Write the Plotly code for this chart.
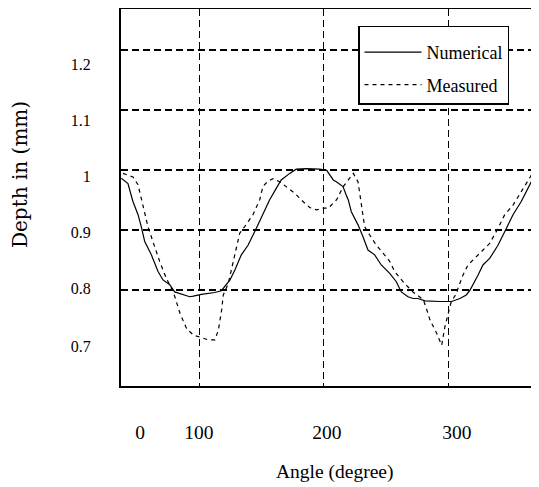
import plotly.graph_objects as go

# ---- data ----
num_angle = [36.9, 42.3, 46.3, 50.4, 53.0, 55.8, 61.1, 66.5, 70.5, 75.9, 79.9, 87.9, 92.0, 94.9,
             101.4, 112.1, 117.5, 124.4, 128.4, 133.5, 138.9, 145.5, 150.9, 156.3, 161.6, 165.6,
             172.4, 177.7, 185.9, 196.5, 202.2, 207.5, 209.9, 215.3, 217.9, 219.5, 222.0, 227.4,
             231.4, 235.4, 240.8, 246.1, 252.9, 258.2, 262.2, 267.6, 271.8, 275.6, 281.3, 287.7,
             293.3, 302.7, 306.4, 309.4, 314.5, 317.5, 323.9, 327.9, 333.3, 340.0, 346.7, 352.1,
             358.7, 364.1, 368.1, 372.2]
num_depth = [0.986, 0.977, 0.947, 0.925, 0.905, 0.880, 0.858, 0.830, 0.816, 0.808, 0.796, 0.791, 0.788, 0.789,
             0.792, 0.795, 0.798, 0.816, 0.833, 0.858, 0.874, 0.902, 0.927, 0.950, 0.969, 0.983,
             0.994, 1.001, 1.002, 1.001, 0.999, 0.983, 0.980, 0.972, 0.958, 0.950, 0.930, 0.908,
             0.888, 0.866, 0.858, 0.841, 0.827, 0.813, 0.796, 0.788, 0.785, 0.785, 0.781, 0.780,
             0.780, 0.780, 0.783, 0.785, 0.791, 0.799, 0.824, 0.841, 0.852, 0.874, 0.902, 0.925,
             0.947, 0.969, 0.988, 1.002]

meas_angle = [38.3, 46.3, 50.4, 54.4, 58.4, 62.4, 67.8, 73.1, 78.8, 84.2, 89.4, 94.9, 101.6, 106.9,
              112.3, 115.0, 117.7, 119.0, 123.0, 126.0, 132.2, 136.2, 142.9, 148.3, 150.9, 154.9,
              159.0, 164.4, 169.7, 176.4, 183.1, 188.5, 194.0, 199.2, 203.5, 210.2, 215.5, 223.6,
              227.4, 230.0, 232.7, 236.8, 242.1, 247.5, 252.9, 256.9, 264.9, 271.6, 277.0, 279.9,
              282.3, 285.3, 290.7, 294.7, 297.3, 301.4, 302.4, 306.8, 307.8, 311.8, 315.8, 321.2,
              327.9, 333.3, 340.0, 345.4, 352.1, 360.1, 365.5, 369.5]
meas_depth = [0.994, 0.988, 0.975, 0.941, 0.905, 0.880, 0.847, 0.819, 0.796, 0.760, 0.735, 0.724, 0.719, 0.716,
              0.716, 0.732, 0.766, 0.791, 0.810, 0.836, 0.894, 0.905, 0.925, 0.950, 0.972, 0.981,
              0.985, 0.980, 0.972, 0.961, 0.947, 0.937, 0.933, 0.936, 0.936, 0.950, 0.972, 0.994,
              0.980, 0.947, 0.905, 0.891, 0.874, 0.861, 0.847, 0.830, 0.810, 0.796, 0.788, 0.783,
              0.769, 0.749, 0.727, 0.707, 0.738, 0.771, 0.780, 0.794, 0.802, 0.824, 0.841, 0.852,
              0.866, 0.877, 0.902, 0.925, 0.941, 0.969, 0.986, 1.000]

x_grid = [100, 200, 300]
x_tick_pos = [52.0, 99.4, 202.4, 307.0]
x_tick_text = ["0", "100", "200", "300"]

y_grid = [0.8, 0.9, 1.0, 1.1, 1.2]
y_tick_pos = [0.7046, 0.8014, 0.8956, 0.9885, 1.0820, 1.1767]
y_tick_text = ["0.7", "0.8", "0.9", "1", "1.1", "1.2"]

x_range = [36.7, 373.0]
y_range = [0.6389, 1.2685]

SERIF = "Liberation Serif, Times New Roman, serif"

fig = go.Figure()
fig.add_trace(go.Scatter(x=num_angle, y=num_depth, mode="lines", name="Numerical",
                         legendgroup="a",
                         line=dict(color="black", width=1.2)))
fig.add_trace(go.Scatter(x=meas_angle, y=meas_depth, mode="lines", name="Measured",
                         legendgroup="b",
                         line=dict(color="black", width=1.2, dash="4px,4px")))

# the page body has an 8px margin, so the figure is shifted by 8px; compensate
fig.update_layout(
    width=531, height=479,
    margin=dict(l=113, r=0, t=1, b=101, autoexpand=False),
    paper_bgcolor="white", plot_bgcolor="white",
    font=dict(family=SERIF, color="black"),
    showlegend=True,
    legend=dict(x=0.567, y=0.955, xanchor="left", yanchor="top",
                bgcolor="white", bordercolor="black", borderwidth=1.5,
                font=dict(family=SERIF, size=18, color="black"),
                title=dict(text=" ", font=dict(size=5)),
                itemwidth=57, tracegroupgap=6, traceorder="grouped"),
    xaxis=dict(range=x_range, showline=True, linecolor="black", linewidth=2, mirror=True,
               tickmode="array", tickvals=x_tick_pos, ticktext=x_tick_text,
               ticks="", showgrid=False, zeroline=False, ticklabelstandoff=28,
               tickfont=dict(family=SERIF, size=19.5, color="black"),
               minor=dict(tickmode="array", tickvals=x_grid, showgrid=True, gridcolor="black",
                          gridwidth=1.3, griddash="7px,4px", ticks="")),
    yaxis=dict(range=y_range, showline=True, linecolor="black", linewidth=2, mirror=False,
               tickmode="array", tickvals=y_tick_pos, ticktext=y_tick_text,
               ticks="", showgrid=False, zeroline=False, ticklabelstandoff=25,
               tickfont=dict(family=SERIF, size=16, color="black"),
               minor=dict(tickmode="array", tickvals=y_grid, showgrid=True, gridcolor="black",
                          gridwidth=1.5, griddash="7px,4px", ticks="")),
    annotations=[
        dict(text="Depth in (mm)", xref="paper", yref="paper", x=-0.2416, y=0.5597,
             xanchor="center", yanchor="middle", textangle=-90, showarrow=False,
             font=dict(family="DejaVu Serif, serif", size=20, color="black")),
        dict(text="Angle (degree)", xref="paper", yref="paper", x=0.5096, y=-0.228,
             xanchor="center", yanchor="middle", showarrow=False,
             font=dict(family=SERIF, size=19.5, color="black")),
    ],
)

fig.write_html("out.html")
